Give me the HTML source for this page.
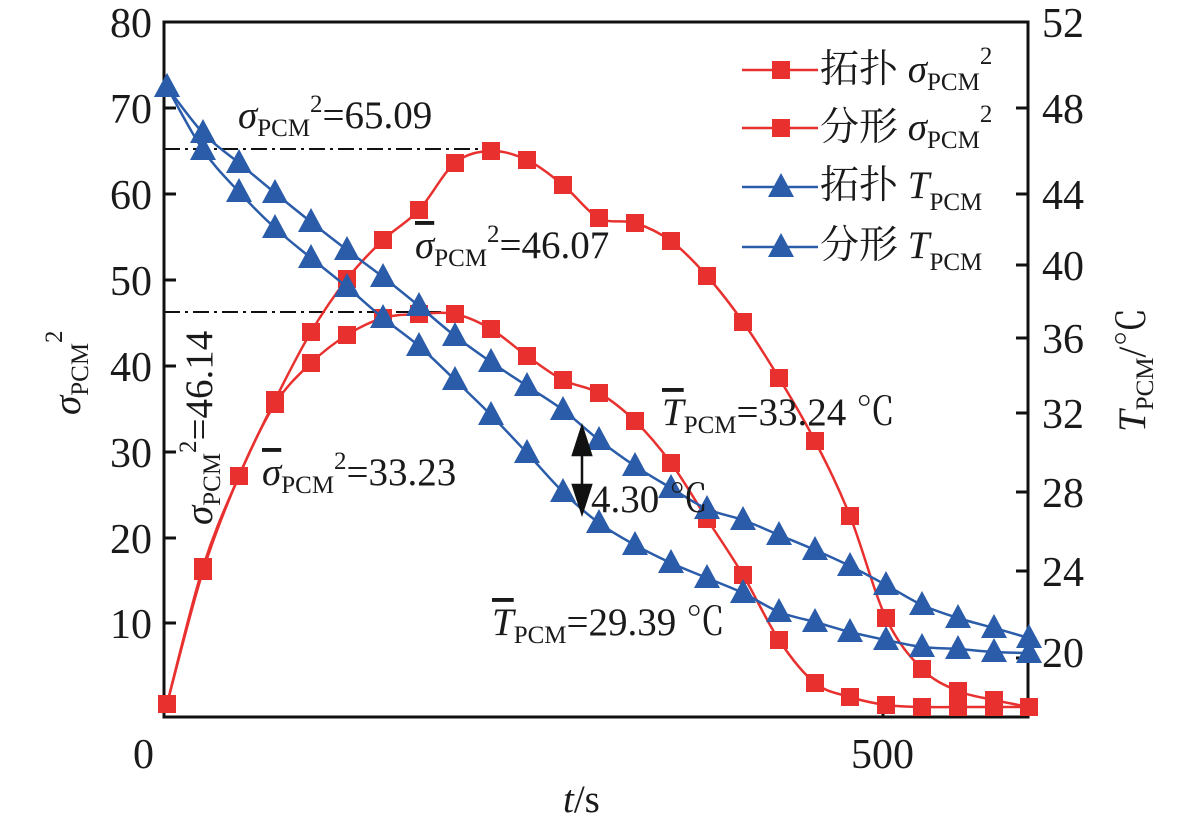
<!DOCTYPE html>
<html><head><meta charset="utf-8"><style>
body{margin:0;background:#fff}
svg{display:block}
text,tspan{font-family:"Liberation Serif","Noto Serif CJK SC",serif;fill:#1a1a1a}
.t{font-size:42px}
.a{font-size:39px}
.s{font-size:25px}
</style></head><body>
<svg id="g" width="1181" height="828" viewBox="0 0 1181 828" font-family="Liberation Serif, Noto Serif CJK SC, serif">
<rect x="164" y="22" width="864" height="695" fill="none" stroke="#111" stroke-width="3"/>
<g stroke="#111" stroke-width="3">
<line x1="164" y1="108" x2="176" y2="108"/><line x1="164" y1="194" x2="176" y2="194"/>
<line x1="164" y1="280" x2="176" y2="280"/><line x1="164" y1="366" x2="176" y2="366"/>
<line x1="164" y1="452" x2="176" y2="452"/><line x1="164" y1="538" x2="176" y2="538"/>
<line x1="164" y1="623" x2="176" y2="623"/><line x1="164" y1="708" x2="176" y2="708"/>
<line x1="883" y1="717" x2="883" y2="705"/>
<line x1="1028" y1="108" x2="1016" y2="108"/><line x1="1028" y1="194" x2="1016" y2="194"/>
<line x1="1028" y1="265" x2="1016" y2="265"/><line x1="1028" y1="338" x2="1016" y2="338"/>
<line x1="1028" y1="413" x2="1016" y2="413"/><line x1="1028" y1="492" x2="1016" y2="492"/>
<line x1="1028" y1="571" x2="1016" y2="571"/><line x1="1028" y1="658" x2="1016" y2="658"/>
</g>
<g class="t" text-anchor="end">
<text x="152" y="37">80</text><text x="152" y="123">70</text><text x="152" y="209">60</text>
<text x="152" y="295">50</text><text x="152" y="381">40</text><text x="152" y="467">30</text>
<text x="152" y="553">20</text><text x="152" y="638">10</text>
</g>
<g class="t">
<text x="1042" y="37">52</text><text x="1042" y="123">48</text><text x="1042" y="209">44</text>
<text x="1042" y="280">40</text><text x="1042" y="353">36</text><text x="1042" y="428">32</text>
<text x="1042" y="507">28</text><text x="1042" y="586">24</text><text x="1042" y="667">20</text>
<text x="133" y="768">0</text><text x="851" y="768">500</text>
</g>
<text class="a" x="563" y="812"><tspan font-style="italic">t</tspan>/s</text>
<text class="a" transform="translate(80,415) rotate(-90)"><tspan font-style="italic">σ</tspan><tspan class="s" dy="8">PCM</tspan><tspan class="s" dy="-26">2</tspan></text>
<text class="a" transform="translate(1145,432) rotate(-90)"><tspan font-style="italic">T</tspan><tspan class="s" dy="8">PCM</tspan><tspan dy="-8">/℃</tspan></text>
<g stroke="#111" stroke-width="2" stroke-dasharray="16,5,3,5">
<line x1="164" y1="149" x2="490" y2="149"/><line x1="164" y1="312" x2="455" y2="312"/>
</g>
<g id="series"></g>
<g class="a">
<text x="238" y="128"><tspan font-style="italic">σ</tspan><tspan class="s" dy="8">PCM</tspan><tspan class="s" dy="-24">2</tspan><tspan dy="16">=65.09</tspan></text>
<text x="415" y="258"><tspan font-style="italic" text-decoration="overline">σ</tspan><tspan class="s" dy="8">PCM</tspan><tspan class="s" dy="-24">2</tspan><tspan dy="16">=46.07</tspan></text>
<text x="262" y="485"><tspan font-style="italic" text-decoration="overline">σ</tspan><tspan class="s" dy="8">PCM</tspan><tspan class="s" dy="-24">2</tspan><tspan dy="16">=33.23</tspan></text>
<text transform="translate(212,525) rotate(-90)"><tspan font-style="italic">σ</tspan><tspan class="s" dy="8">PCM</tspan><tspan class="s" dy="-24">2</tspan><tspan dy="16">=46.14</tspan></text>
<text x="662" y="425"><tspan font-style="italic" text-decoration="overline">T</tspan><tspan class="s" dy="8">PCM</tspan><tspan dy="-8">=33.24 ℃</tspan></text>
<text x="492" y="635"><tspan font-style="italic" text-decoration="overline">T</tspan><tspan class="s" dy="8">PCM</tspan><tspan dy="-8">=29.39 ℃</tspan></text>
<text x="591" y="512">4.30 ℃</text>
</g>
<g stroke="#111" stroke-width="2.5" fill="#111">
<line x1="582" y1="436" x2="582" y2="504"/>
<polygon points="582,427 573,455 591,455"/><polygon points="582,513 573,485 591,485"/>
</g>
<g id="legend"></g>
<g class="a">
<text x="820" y="82">拓扑 <tspan font-style="italic">σ</tspan><tspan class="s" dy="8">PCM</tspan><tspan class="s" dy="-26">2</tspan></text>
<text x="820" y="140">分形 <tspan font-style="italic">σ</tspan><tspan class="s" dy="8">PCM</tspan><tspan class="s" dy="-26">2</tspan></text>
<text x="820" y="198">拓扑 <tspan font-style="italic">T</tspan><tspan class="s" dy="12">PCM</tspan></text>
<text x="820" y="258">分形 <tspan font-style="italic">T</tspan><tspan class="s" dy="12">PCM</tspan></text>
</g>
</svg>
<script>
var X=[167,203,239,275,311,347,383,419,455,491,527,563,599,635,671,707,743,779,815,850,886,922,958,994,1029];
var R1=[704,567,476,400,332,279,240,210,163,151,160,185,218,223,241,276,322,378,441,516,618,669,691,700,707];
var R2=[704,571,476,404,363,335,318,314,314,329,356,380,393,421,463,519,575,640,683,697,705,707,707,707,707];
var B1=[87,133,163,193,222,250,277,306,336,362,386,410,440,466,488,509,520,535,550,566,585,605,618,628,638];
var B2=[87,150,192,228,258,287,318,346,380,415,453,492,523,545,563,578,593,612,622,632,640,647,649,652,653];
var RED="#e8312f",BLUE="#2a5caa";
function path(ys){var d="M"+X[0]+","+ys[0];for(var i=0;i<X.length-1;i++){var p0=i?i-1:i,p3=i+2<X.length?i+2:i+1;
var c1x=X[i]+(X[i+1]-X[p0])/6,c1y=ys[i]+(ys[i+1]-ys[p0])/6,c2x=X[i+1]-(X[p3]-X[i])/6,c2y=ys[i+1]-(ys[p3]-ys[i])/6;
d+=" C"+c1x+","+c1y+" "+c2x+","+c2y+" "+X[i+1]+","+ys[i+1];}return d;}
function sq(x,y,c){return '<rect x="'+(x-9)+'" y="'+(y-9)+'" width="18" height="18" fill="'+c+'"/>';}
function tr(x,y,c){return '<polygon points="'+x+','+(y-14)+' '+(x-13)+','+(y+10)+' '+(x+13)+','+(y+10)+'" fill="'+c+'"/>';}
var h="";
[[R1,RED,sq],[R2,RED,sq],[B1,BLUE,tr],[B2,BLUE,tr]].forEach(function(s){
h+='<path d="'+path(s[0])+'" fill="none" stroke="'+s[1]+'" stroke-width="2.5"/>';
for(var i=0;i<X.length;i++)h+=s[2](X[i],s[0][i],s[1]);});
document.getElementById("series").innerHTML=h;
var L="";[[70,RED,sq],[128,RED,sq],[187,BLUE,tr],[247,BLUE,tr]].forEach(function(s){
L+='<line x1="742" y1="'+s[0]+'" x2="818" y2="'+s[0]+'" stroke="'+s[1]+'" stroke-width="2.5"/>'+s[2](781,s[0],s[1]);});
document.getElementById("legend").innerHTML=L;
</script>
</body></html>
